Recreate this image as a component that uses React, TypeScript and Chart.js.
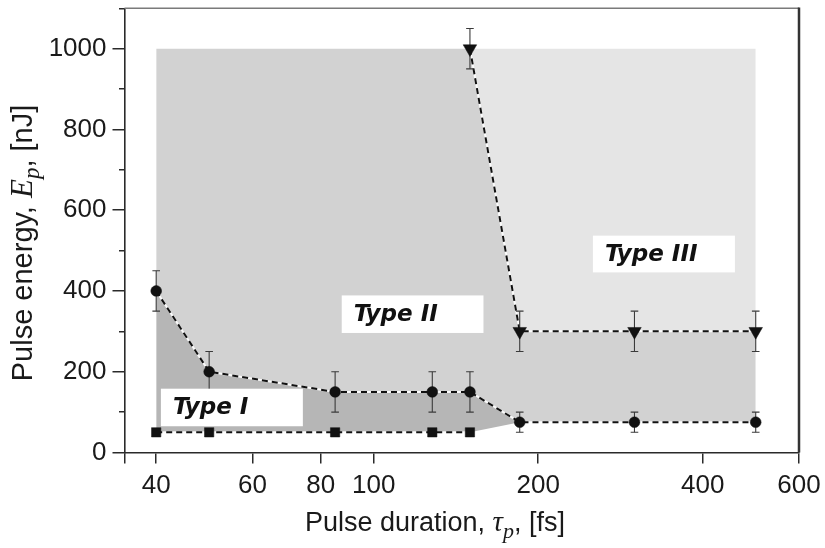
import React, { useEffect, useRef } from 'react';
import { Chart, registerables } from 'chart.js';

Chart.register(...registerables);

// ---------- data ----------
const xTickValues = [35, 40, 60, 80, 100, 200, 400, 600];
const xTickLabels = ['', '40', '60', '80', '100', '200', '400', '600'];
const yMajorTicks = [0, 200, 400, 600, 800, 1000];
const yMinorTicks = [100, 300, 500, 700, 900, 1100];

// Type I lower limit (squares)
const typeIx = [40, 50, 85, 128, 150];
const typeIy = [50, 50, 50, 50, 50];
// Type I / Type II boundary (circles)
const boundaryIIx = [40, 50, 85, 128, 150, 185, 300, 500];
const boundaryIIy = [400, 200, 150, 150, 150, 75, 75, 75];
const boundaryIIerr = [50, 50, 50, 50, 50, 25, 25, 25];
// Type II / Type III boundary (down triangles)
const boundaryIIIx = [150, 185, 300, 500];
const boundaryIIIy = [1000, 300, 300, 300];
const boundaryIIIerr = [50, 50, 50, 50];
// upper limit of the explored map
const mapTop = 1000;

const regionNames = ['Type I', 'Type II', 'Type III'];

// ---------- layout / style ----------
const labelBoxes = [
  { x0: 40.8, x1: 74.2, y0: 65, y1: 158 },
  { x0: 87.4, x1: 158.8, y0: 296, y1: 389 },
  { x0: 251.8, x1: 458, y0: 446, y1: 537 },
];
const regionColors = ['#b6b6b6', '#d2d2d2', '#e5e5e5'];
const tickFont = { family: '"Liberation Sans", Arial, sans-serif', size: 26 };
const axisColor = '#2a2a2a';

type P = { x: number; y: number | null };
const pts = (xs: number[], ys: number[]): P[] => xs.map((x, i) => ({ x, y: ys[i] }));

function buildErrorBars(xs: number[], ys: number[], es: number[]): P[] {
  const out: P[] = [];
  xs.forEach((x, i) => {
    out.push({ x, y: ys[i] - es[i] });
    out.push({ x, y: ys[i] + es[i] });
    out.push({ x, y: null });
  });
  return out;
}

const hiddenLine = {
  borderColor: 'transparent',
  borderWidth: 0,
  pointRadius: 0,
  showLine: true,
  tension: 0,
};

const boxesPlugin = {
  id: 'labelBoxes',
  afterDatasetsDraw(chart: any) {
    const { ctx, scales } = chart;
    const xs = scales.x;
    const ys = scales.y;
    ctx.save();
    labelBoxes.forEach((b, i) => {
      const l = xs.getPixelForValue(b.x0);
      const r = xs.getPixelForValue(b.x1);
      const t = ys.getPixelForValue(b.y1);
      const btm = ys.getPixelForValue(b.y0);
      ctx.fillStyle = '#ffffff';
      ctx.fillRect(l, t, r - l, btm - t);
      ctx.fillStyle = '#111111';
      ctx.font = 'italic bold 23px "DejaVu Sans", Verdana, sans-serif';
      ctx.textBaseline = 'middle';
      ctx.textAlign = 'left';
      ctx.fillText(regionNames[i], l + 12, (t + btm) / 2 + 1);
    });
    ctx.restore();
  },
};

const framePlugin = {
  id: 'frame',
  afterDraw(chart: any) {
    const { ctx, chartArea } = chart;
    ctx.save();
    ctx.strokeStyle = '#7a7a7a';
    ctx.lineWidth = 1.5;
    ctx.beginPath();
    ctx.moveTo(chartArea.left, chartArea.top);
    ctx.lineTo(chartArea.right, chartArea.top);
    ctx.stroke();
    ctx.strokeStyle = '#333333';
    ctx.lineWidth = 2.5;
    ctx.beginPath();
    ctx.moveTo(chartArea.right, chartArea.top - 0.75);
    ctx.lineTo(chartArea.right, chartArea.bottom);
    ctx.stroke();
    ctx.restore();
  },
};

type Part = { t: string; font: string; dy?: number };
function drawRich(ctx: CanvasRenderingContext2D, parts: Part[], cx: number, baseY: number) {
  let total = 0;
  parts.forEach((p) => {
    ctx.font = p.font;
    total += ctx.measureText(p.t).width;
  });
  let x = cx - total / 2;
  parts.forEach((p) => {
    ctx.font = p.font;
    ctx.fillText(p.t, x, baseY + (p.dy || 0));
    x += ctx.measureText(p.t).width;
  });
}

const sans = '"Liberation Sans", Arial, sans-serif';
const serif = '"Liberation Serif", "DejaVu Serif", serif';

const titlesPlugin = {
  id: 'axisTitles',
  afterDraw(chart: any) {
    const { ctx } = chart;
    ctx.save();
    ctx.fillStyle = '#1a1a1a';
    ctx.textBaseline = 'alphabetic';
    ctx.textAlign = 'left';
    drawRich(
      ctx,
      [
        { t: 'Pulse duration, ', font: `27px ${sans}` },
        { t: 'τ', font: `italic 29px ${serif}` },
        { t: 'p', font: `italic 22px ${serif}`, dy: 7 },
        { t: ', [fs]', font: `27px ${sans}` },
      ],
      435,
      531
    );
    ctx.translate(32, 243);
    ctx.rotate(-Math.PI / 2);
    drawRich(
      ctx,
      [
        { t: 'Pulse energy, ', font: `29px ${sans}` },
        { t: 'E', font: `italic 31px ${serif}` },
        { t: 'p', font: `italic 23px ${serif}`, dy: 7 },
        { t: ', [nJ]', font: `29px ${sans}` },
      ],
      0,
      0
    );
    ctx.restore();
  },
};

export default function App() {
  const ref = useRef<HTMLCanvasElement | null>(null);

  useEffect(() => {
    if (!ref.current) return;

    const iiPts = pts(boundaryIIx, boundaryIIy);
    const iiiPts = pts(boundaryIIIx, boundaryIIIy);
    const sqPts = pts(typeIx, typeIy);
    const lastSquareX = typeIx[typeIx.length - 1];
    const tipIndex = boundaryIIx.findIndex((x) => x > lastSquareX);

    // region boundaries (filled between upper and lower)
    const typeIUpper = iiPts.slice(0, tipIndex + 1);
    const typeILower = [...sqPts, iiPts[tipIndex]];
    const typeIIUpper = [{ x: boundaryIIx[0], y: mapTop }, ...iiiPts];
    const typeIILower = iiPts;
    const typeIIIUpper = [
      { x: boundaryIIIx[0], y: mapTop },
      { x: boundaryIIIx[boundaryIIIx.length - 1], y: mapTop },
    ];
    const typeIIILower = iiiPts;

    const lineSets = [sqPts, iiPts, iiiPts];

    const datasets: any[] = [
      { ...hiddenLine, data: typeIUpper, fill: 1, backgroundColor: regionColors[0], order: 30 },
      { ...hiddenLine, data: typeILower, fill: false, order: 31 },
      { ...hiddenLine, data: typeIIUpper, fill: 3, backgroundColor: regionColors[1], order: 32 },
      { ...hiddenLine, data: typeIILower, fill: false, order: 33 },
      { ...hiddenLine, data: typeIIIUpper, fill: 5, backgroundColor: regionColors[2], order: 34 },
      { ...hiddenLine, data: typeIIILower, fill: false, order: 35 },
    ];

    lineSets.forEach((d) => {
      datasets.push({
        data: d,
        showLine: true,
        borderColor: 'rgba(255,255,255,0.9)',
        borderWidth: 2,
        pointRadius: 0,
        fill: false,
        tension: 0,
        order: 20,
      });
    });
    lineSets.forEach((d) => {
      datasets.push({
        data: d,
        showLine: true,
        borderColor: '#111111',
        borderWidth: 2,
        borderDash: [6, 4],
        pointRadius: 0,
        fill: false,
        tension: 0,
        order: 15,
      });
    });

    const errSets = [
      buildErrorBars(boundaryIIx, boundaryIIy, boundaryIIerr),
      buildErrorBars(boundaryIIIx, boundaryIIIy, boundaryIIIerr),
    ];
    errSets.forEach((d) => {
      datasets.push({
        data: d,
        showLine: true,
        spanGaps: false,
        borderColor: '#3a3a3a',
        borderWidth: 1.1,
        pointStyle: 'line',
        pointRadius: 3.8,
        pointBorderWidth: 1.1,
        pointBorderColor: '#3a3a3a',
        fill: false,
        tension: 0,
        order: 10,
      });
    });

    const markerStyles = [
      { pointStyle: 'rect', pointRadius: 6.6, rotation: 0 },
      { pointStyle: 'circle', pointRadius: 5.4, rotation: 0 },
      { pointStyle: 'triangle', pointRadius: 7.8, rotation: 180 },
    ];
    lineSets.forEach((d, i) => {
      datasets.push({
        data: d,
        showLine: false,
        pointStyle: markerStyles[i].pointStyle,
        pointRadius: markerStyles[i].pointRadius,
        pointRotation: markerStyles[i].rotation,
        pointBackgroundColor: '#111111',
        pointBorderColor: '#111111',
        pointBorderWidth: 0.5,
        fill: false,
        order: 5,
      });
    });

    const chart = new Chart(ref.current, {
      type: 'line',
      data: { datasets },
      options: {
        animation: false,
        responsive: false,
        events: [],
        layout: { padding: { top: 5, right: 26, left: 0, bottom: 0 } },
        plugins: {
          legend: { display: false },
          tooltip: { enabled: false },
          title: { display: false },
        },
        scales: {
          x: {
            type: 'logarithmic',
            min: 35,
            max: 600,
            afterBuildTicks: (s: any) => {
              s.ticks = xTickValues.map((v) => ({ value: v }));
            },
            afterFit: (s: any) => {
              s.height = 95.5;
              s.paddingLeft = 0;
              s.paddingRight = 0;
            },
            ticks: {
              autoSkip: false,
              maxRotation: 0,
              padding: 7,
              color: '#1a1a1a',
              font: tickFont,
              callback: (v: any) => {
                const k = xTickValues.indexOf(Number(v));
                return k >= 0 ? xTickLabels[k] : '';
              },
            },
            grid: {
              drawOnChartArea: false,
              drawTicks: true,
              tickLength: 11,
              color: axisColor,
              lineWidth: 1.5,
            },
            border: { display: true, color: axisColor, width: 1.6 },
          },
          y: {
            type: 'linear',
            min: 0,
            max: 1100,
            afterBuildTicks: (s: any) => {
              s.ticks = yMajorTicks.map((v) => ({ value: v }));
            },
            afterFit: (s: any) => {
              s.width = 124.5;
              s.paddingTop = 0;
              s.paddingBottom = 0;
            },
            ticks: {
              padding: 6,
              color: '#1a1a1a',
              font: tickFont,
              callback: (v: any) => String(v),
            },
            grid: {
              drawOnChartArea: false,
              drawTicks: true,
              tickLength: 12,
              color: axisColor,
              lineWidth: 1.5,
            },
            border: { display: true, color: axisColor, width: 1.6 },
          },
          yMinor: {
            type: 'linear',
            axis: 'y',
            position: { x: 35 },
            min: 0,
            max: 1100,
            afterBuildTicks: (s: any) => {
              s.ticks = yMinorTicks.map((v) => ({ value: v }));
            },
            afterFit: (s: any) => {
              s.paddingTop = 0;
              s.paddingBottom = 0;
            },
            ticks: { display: false },
            grid: {
              drawOnChartArea: false,
              drawTicks: true,
              tickLength: 6,
              color: axisColor,
              lineWidth: 1.5,
            },
            border: { display: false },
          },
        } as any,
      },
      plugins: [boxesPlugin, framePlugin, titlesPlugin],
    });

    return () => chart.destroy();
  }, []);

  return (
    <div style={{ position: 'absolute', left: 0, top: 0, width: 825, height: 548, background: '#fff' }}>
      <canvas ref={ref} width={825} height={548} />
    </div>
  );
}
